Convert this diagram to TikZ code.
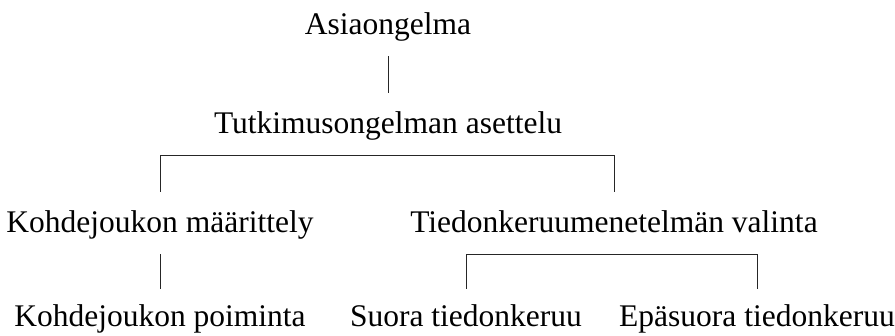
\documentclass[tikz,border=0pt]{standalone}
\usepackage{fontspec}
\setmainfont{Liberation Serif}
\begin{document}
\begin{tikzpicture}[x=1pt,y=-1pt,
  lbl/.style={anchor=base,inner xsep=0pt,inner ysep=15pt,text height=25pt,text depth=7pt,font=\fontsize{31.5}{36}\selectfont},
  conn/.style={draw=black!85,line width=0.7pt}]
\useasboundingbox (0,0) rectangle (895,335);
\node[lbl] (a) at (388,34) {Asiaongelma};
\node[lbl] (b) at (388,133) {Tutkimusongelman asettelu};
\node[lbl] (k) at (160,232) {Kohdejoukon määrittely};
\node[lbl] (t) at (614,232) {Tiedonkeruumenetelmän valinta};
\node[lbl,text height=22pt] (p) at (160,326) {Kohdejoukon poiminta};
\node[lbl,text height=22pt] (s) at (466,326) {Suora tiedonkeruu};
\node[lbl,text height=22pt] (e) at (757,326) {Epäsuora tiedonkeruu};
\draw[conn] (a.south) -- (b.north);
\draw[conn] (k.north) |- (b.south) -| (t.north);
\draw[conn] (k.south) -- (p.north);
\draw[conn] (s.north) |- (t.south) -| (e.north);
\end{tikzpicture}
\end{document}
